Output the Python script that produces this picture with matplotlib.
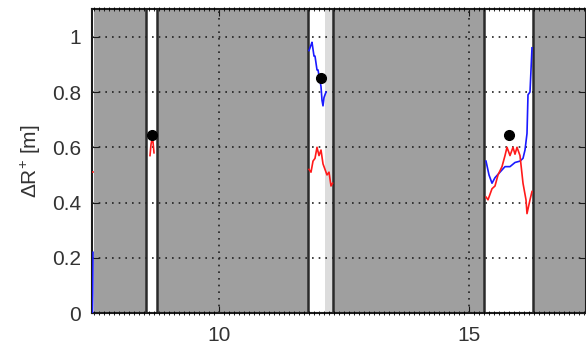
import numpy as np
import matplotlib.pyplot as plt

plt.rcParams['font.family'] = ['Liberation Sans', 'DejaVu Sans']
plt.rcParams['mathtext.fontset'] = 'custom'
plt.rcParams['mathtext.rm'] = 'Liberation Sans'

# white (unshaded) intervals, remaining span is shaded gray
gaps = [(8.54, 8.76), (11.78, 12.28), (15.30, 16.28)]
light_band = (12.12, 12.28)
x_lo, x_hi = 7.46, 17.34

# segment near left edge
blue0_x = [7.47, 7.475, 7.48]
blue0_y = [0.0, 0.07, 0.22]
red0_x = [7.46, 7.475]
red0_y = [0.51, 0.51]

# gap 1
blue1_x = [8.62, 8.64, 8.66, 8.68]
blue1_y = [0.63, 0.65, 0.64, 0.63]
red1_x = [8.62, 8.64, 8.66, 8.68, 8.70]
red1_y = [0.57, 0.61, 0.63, 0.62, 0.58]

# gap 2
blue2_x = [11.80, 11.82, 11.84, 11.86, 11.90, 11.92, 11.96, 11.98,
           12.02, 12.04, 12.06, 12.08, 12.10, 12.12, 12.14]
blue2_y = [0.95, 0.96, 0.97, 0.98, 0.93, 0.93, 0.88, 0.88,
           0.84, 0.82, 0.77, 0.75, 0.78, 0.79, 0.80]
red2_x = [11.80, 11.84, 11.88, 11.92, 11.96, 12.00, 12.04, 12.08,
          12.12, 12.16, 12.20, 12.24, 12.27]
red2_y = [0.52, 0.51, 0.55, 0.56, 0.60, 0.57, 0.59, 0.54,
          0.52, 0.50, 0.51, 0.46, 0.47]

# gap 3
blue3_x = [15.34, 15.40, 15.46, 15.52, 15.62, 15.72, 15.82, 15.92, 16.02,
           16.08, 16.12, 16.16, 16.18, 16.22, 16.26]
blue3_y = [0.55, 0.50, 0.47, 0.49, 0.51, 0.53, 0.53, 0.545, 0.55,
           0.56, 0.59, 0.65, 0.79, 0.80, 0.96]
red3_x = [15.34, 15.38, 15.46, 15.52, 15.58, 15.66, 15.72, 15.76,
          15.82, 15.88, 15.92, 15.96, 16.02, 16.08, 16.14, 16.16,
          16.22, 16.26]
red3_y = [0.42, 0.41, 0.45, 0.46, 0.50, 0.53, 0.57, 0.60,
          0.57, 0.60, 0.575, 0.60, 0.57, 0.47, 0.41, 0.36,
          0.41, 0.44]

dots_x = [8.66, 12.04, 15.80]
dots_y = [0.645, 0.85, 0.644]

fig = plt.figure(figsize=(5.86, 3.51), dpi=100)
ax = fig.add_axes([0.157, 0.108, 0.843, 0.866])

# gray shading between the gaps
edges = [x_lo + 0.03] + [v for g in gaps for v in g] + [x_hi + 1]
for a, b in zip(edges[0::2], edges[1::2]):
    ax.axvspan(a, b, color='#9f9f9f', zorder=0, lw=0)
ax.axvspan(*light_band, color='#dcdcdc', zorder=0, lw=0)
for g in gaps:
    for v in g:
        ax.axvline(v, color='#2a2a2a', lw=1.8, zorder=1)

ax.grid(True, color='#222222', linestyle=(0, (1, 3)), linewidth=1.2)
ax.set_axisbelow(False)

for xs, ys in [(blue0_x, blue0_y), (blue1_x, blue1_y), (blue2_x, blue2_y), (blue3_x, blue3_y)]:
    ax.plot(xs, ys, color='#1a1aff', lw=1.2, zorder=3)
for xs, ys in [(red0_x, red0_y), (red1_x, red1_y), (red2_x, red2_y), (red3_x, red3_y)]:
    ax.plot(xs, ys, color='#ff1a1a', lw=1.2, zorder=3)
ax.plot(dots_x, dots_y, 'o', color='black', ms=7, zorder=4)

ax.set_xlim(x_lo, x_hi)
ax.set_ylim(0, 1.1)
ax.set_xticks([10, 15])
ax.set_yticks([0, 0.2, 0.4, 0.6, 0.8, 1])
ax.set_yticklabels(['0', '0.2', '0.4', '0.6', '0.8', '1'])
ax.set_xticks(np.arange(7.5, 17.4, 0.1), minor=True)
ax.tick_params(which='major', direction='in', length=5, labelsize=15,
               top=True, right=True, colors='#1a1a1a', labelcolor='#333333')
ax.tick_params(axis='x', which='major', pad=9)
ax.tick_params(axis='y', which='major', pad=8)
ax.tick_params(which='minor', direction='inout', length=3, top=True, bottom=True)
ax.set_ylabel('ΔR$^{+}$ [m]', fontsize=15, labelpad=6, color='#333333')
for s in ax.spines.values():
    s.set_linewidth(1.5)
    s.set_color('#1a1a1a')

fig.savefig('out.png', dpi=100)
